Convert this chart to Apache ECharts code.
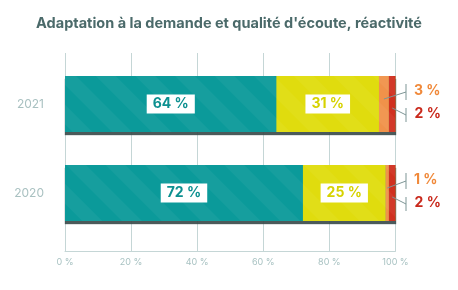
<!DOCTYPE html>
<html>
<head>
<meta charset="utf-8">
<script src="https://cdn.jsdelivr.net/npm/echarts@6/dist/echarts.min.js"></script>
<style>html,body{margin:0;padding:0;background:#fff}#c{width:458px;height:290px}</style>
</head>
<body>
<div id="c"></div>
<script>
const title = "Adaptation à la demande et qualité d'écoute, réactivité";
const categories = ['2021', '2020'];
const teal = [64, 72];
const yellow = [31, 25];
const orange = [3, 1];
const red = [2, 2];
const xTicks = [0, 20, 40, 60, 80, 100];

const totals = categories.map((c, i) => teal[i] + yellow[i] + orange[i] + red[i]);

const chart = echarts.init(document.getElementById('c'), null, {renderer: 'canvas'});
const FONT = 'Inter, "Noto Sans", sans-serif';
const decal = {symbol: 'rect', symbolSize: 1, dashArrayX: [1, 0], dashArrayY: [14, 14], rotation: Math.PI / 4, color: 'rgba(255,255,255,0.045)'};

function boxLabel(col) {
  return {show: true, position: 'inside', formatter: '{c} %', color: col, backgroundColor: '#fff',
    padding: [3, 6, 2, 6], fontSize: 14, fontWeight: 'bold', fontFamily: FONT};
}
function sideLabel(col) {
  return {show: true, position: 'right', formatter: '{c} %', color: col, fontSize: 14, fontWeight: 'bold', fontFamily: FONT, distance: 5};
}
function style(col) {
  return {color: col, borderWidth: 0, borderColor: col, decal: decal};
}

chart.setOption({
  animation: false,
  title: {text: title, left: 'center', top: 11, textStyle: {fontSize: 14.5, fontWeight: 'bold', color: '#4b6a6a', fontFamily: FONT}},
  grid: [
    {left: 65, right: 62.5, top: 59.5, height: 178},
    {left: 65, right: 62.5, top: 53, bottom: 39}
  ],
  xAxis: [
    {gridIndex: 0, type: 'value', min: 0, max: 100, show: false},
    {gridIndex: 1, type: 'value', min: 0, max: 100, interval: 20,
      axisLine: {show: true, lineStyle: {color: '#c5d6d6', width: 1}},
      axisTick: {show: false},
      splitLine: {show: true, lineStyle: {color: '#c5d6d6', width: 1}},
      axisLabel: {formatter: v => xTicks.indexOf(v) >= 0 ? v + ' %' : '', color: '#a8c2c2', fontSize: 9, fontFamily: FONT, margin: 7}}
  ],
  yAxis: [
    {gridIndex: 0, type: 'category', data: categories, inverse: true,
      axisLine: {show: false}, axisTick: {show: false}, splitLine: {show: false},
      axisLabel: {color: '#a9c1c1', fontSize: 12, fontFamily: FONT, margin: 21}},
    {gridIndex: 1, type: 'value', show: false, min: 0, max: 1}
  ],
  series: [
    {type: 'bar', data: totals, barWidth: 56, barGap: '-100%', z: 1, silent: true,
      itemStyle: {color: '#8fbf56', borderWidth: 0, shadowColor: 'rgba(55,72,72,0.9)', shadowOffsetY: 3, shadowBlur: 1}},
    {type: 'bar', stack: 't', data: teal, barWidth: 56, barGap: '-100%', z: 2,
      itemStyle: style('#0b9a9a'), label: boxLabel('#0d9090')},
    {type: 'bar', stack: 't', data: yellow, barWidth: 56, z: 2,
      itemStyle: style('#e0dc0e'), label: boxLabel('#d6d200')},
    {type: 'bar', stack: 't', data: orange, barWidth: 56, z: 2,
      itemStyle: style('#f0924a'), label: sideLabel('#f0893a'),
      labelLayout: {dx: 20, dy: -13}},
    {type: 'bar', stack: 't', data: red, barWidth: 56, z: 2,
      itemStyle: style('#d0301f'), label: sideLabel('#c9291c'),
      labelLayout: {dx: 14, dy: 10}}
  ]
});

// leader lines built from the chart's own scales
const lineStyle = {stroke: '#7d9595', lineWidth: 1, fill: null};
const graphics = [];
categories.forEach((c, i) => {
  const finder = {xAxisIndex: 0, yAxisIndex: 0};
  const oMid = chart.convertToPixel(finder, [teal[i] + yellow[i] + orange[i] / 2, i]);
  const rMid = chart.convertToPixel(finder, [teal[i] + yellow[i] + orange[i] + red[i] / 2, i]);
  const end = chart.convertToPixel(finder, [totals[i], i]);
  const cy = end[1];
  const bx = end[0] + 10.5;
  graphics.push({type: 'polyline', z: 100, shape: {points: [[oMid[0], cy - 5], [bx, cy - 12]]}, style: lineStyle});
  graphics.push({type: 'polyline', z: 100, shape: {points: [[bx, cy - 20], [bx, cy - 4]]}, style: lineStyle});
  graphics.push({type: 'polyline', z: 100, shape: {points: [[rMid[0], cy + 4], [bx, cy + 11]]}, style: lineStyle});
  graphics.push({type: 'polyline', z: 100, shape: {points: [[bx, cy + 4], [bx, cy + 18]]}, style: lineStyle});
});
chart.setOption({graphic: graphics});
</script>
</body>
</html>
